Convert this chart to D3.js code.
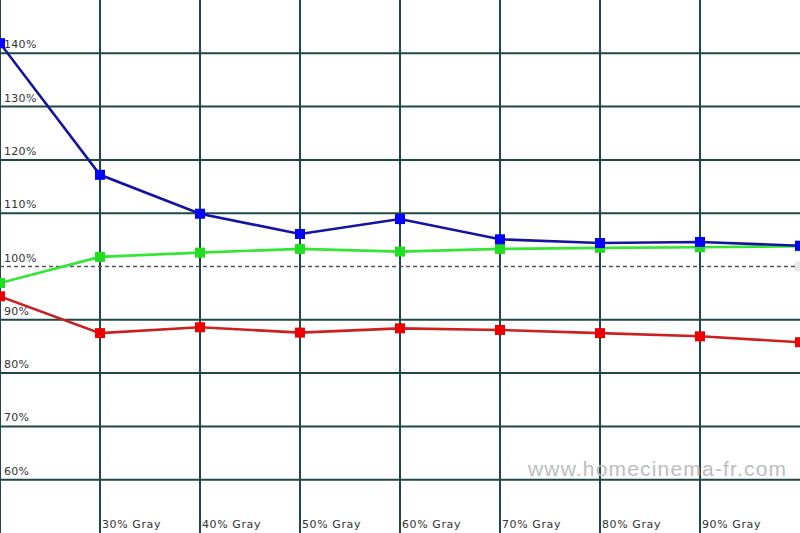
<!DOCTYPE html>
<html>
<head>
<meta charset="utf-8">
<script src="https://cdn.jsdelivr.net/npm/d3@7"></script>
<style>
  body { margin: 0; background: #fff; }
  svg { display: block; }
  .lbl { font-family: 'DejaVu Sans', Verdana, sans-serif; font-size: 11px; fill: #333; }
</style>
</head>
<body>
<div id="chart"></div>
<script>
// gray levels (%) along x
var grayLevels = [20, 30, 40, 50, 60, 70, 80, 90, 100];
var grayLabels = ['', '30% Gray', '40% Gray', '50% Gray', '60% Gray', '70% Gray', '80% Gray', '90% Gray', ''];
// y ticks (%)
var yTicks = [60, 70, 80, 90, 100, 110, 120, 130, 140];
// series values (%)
var blueVals = [141.9, 117.2, 109.9, 106.1, 108.9, 105.1, 104.4, 104.6, 103.9];
var greenVals = [96.9, 101.8, 102.6, 103.3, 102.8, 103.3, 103.5, 103.6, 103.8];
var redVals = [94.4, 87.5, 88.6, 87.6, 88.4, 88.1, 87.5, 86.9, 85.8];
var target = 100;

var width = 800;
var height = 533;

var x = d3.scaleLinear().domain([20, 100]).range([0, 800]);
var y = d3.scaleLinear().domain([50, 150]).range([533, 0]);

var svg = d3.select('#chart').append('svg')
    .attr('width', width)
    .attr('height', height);

svg.append('rect')
    .attr('width', width)
    .attr('height', height)
    .attr('fill', '#fff');

// grid
var grid = svg.append('g').attr('class', 'grid');

grid.selectAll('line.h')
    .data(yTicks.filter(d => d !== target))
    .enter().append('line')
    .attr('class', 'h')
    .attr('x1', 0).attr('x2', width)
    .attr('y1', d => y(d)).attr('y2', d => y(d))
    .attr('stroke', '#1e4747')
    .attr('stroke-width', 2);

grid.selectAll('line.v')
    .data(grayLevels.slice(0, 8))
    .enter().append('line')
    .attr('class', 'v')
    .attr('x1', d => x(d)).attr('x2', d => x(d))
    .attr('y1', 0).attr('y2', height)
    .attr('stroke', '#1e4747')
    .attr('stroke-width', 2);

// 100% reference
grid.append('line')
    .attr('x1', 0).attr('x2', width)
    .attr('y1', y(target)).attr('y2', y(target))
    .attr('stroke', '#555')
    .attr('stroke-width', 1.3)
    .attr('stroke-dasharray', '4,3');

svg.append('rect')
    .attr('x', x(100) - 5).attr('y', y(target) - 5)
    .attr('width', 10).attr('height', 10)
    .attr('fill', '#e6e6e6');

// y labels
svg.append('g').selectAll('text')
    .data(yTicks)
    .enter().append('text')
    .attr('class', 'lbl')
    .attr('x', 4)
    .attr('y', d => y(d) - 5)
    .attr('letter-spacing', 0.3)
    .text(d => d + '%');

// x labels
svg.append('g').selectAll('text')
    .data(grayLevels)
    .enter().append('text')
    .attr('class', 'lbl')
    .attr('x', d => x(d) + 2)
    .attr('y', 528)
    .attr('letter-spacing', 0.6)
    .text((d, i) => grayLabels[i]);

// watermark
svg.append('text')
    .attr('x', 528)
    .attr('y', 476)
    .attr('font-family', 'Liberation Sans, Arial, sans-serif')
    .attr('font-size', 21)
    .attr('fill', '#bdbdbd')
    .attr('textLength', 258)
    .attr('lengthAdjust', 'spacing')
    .text('www.homecinema-fr.com');

var series = [
    { vals: greenVals, line: '#33e633', mark: '#22dd22' },
    { vals: redVals, line: '#cc1f1f', mark: '#ee0000' },
    { vals: blueVals, line: '#1414a0', mark: '#0000ff' }
];

var line = d3.line()
    .x((d, i) => x(grayLevels[i]))
    .y(d => y(d));

series.forEach(s => {
    svg.append('path')
        .datum(s.vals)
        .attr('d', line)
        .attr('fill', 'none')
        .attr('stroke', s.line)
        .attr('stroke-width', 2.6);

    svg.append('g').selectAll('rect')
        .data(s.vals)
        .enter().append('rect')
        .attr('x', (d, i) => x(grayLevels[i]) - 5)
        .attr('y', d => y(d) - 5)
        .attr('width', 10)
        .attr('height', 10)
        .attr('fill', s.mark);
});
</script>
</body>
</html>
